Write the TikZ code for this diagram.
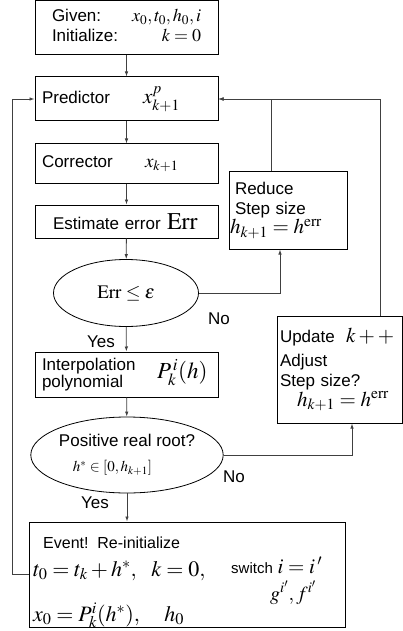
\documentclass[tikz,border=0pt]{standalone}
\usepackage{mathptmx}
\usepackage[no-math]{fontspec}
\setmainfont{Liberation Sans}
\usepackage{tikz}
\usetikzlibrary{arrows.meta}
\usetikzlibrary{shapes.geometric}
\newcommand{\mth}[2][19]{{\fontsize{#1}{#1}\selectfont$#2$}}

\begin{document}
\begin{tikzpicture}[x=1pt,y=-1pt,font=\fontsize{17}{20}\selectfont]
  \tikzset{box/.style={draw=black,line width=1pt,minimum width=183pt,inner xsep=7pt,text width=169pt,align=left}}
  \tikzset{sidebox/.style={draw=black,line width=1pt,align=left,inner xsep=6pt}}
  \tikzset{test/.style={draw=black,line width=0.8pt,ellipse,inner sep=0pt,align=center}}
  \tikzset{flow/.style={-{Latex[length=5pt,width=3.5pt]},draw=black!75,line width=0.8pt}}
  \tikzset{answer/.style={font=\fontsize{17}{20}\selectfont}}
  \tikzset{inline/.style={anchor=base west,inner sep=0pt}}

  \useasboundingbox (0,0) rectangle (403,631);

  \node[box,minimum height=54pt] (given) at (126.5,28)
    {\hspace*{10pt}\begin{tabular}{@{}l@{\hspace{14pt}}r@{}}Given: & \mth[18]{x_0,t_0,h_0,i}\\ Initialize: & \mth[18]{k=0}\end{tabular}};
  \node[box,minimum height=44pt] (pred) at (126.5,99)
    {\makebox[101pt][l]{Predictor}\mth[21]{x^{p}_{k+1}}};
  \node[box,minimum height=39pt] (corr) at (126.5,163.5)
    {\makebox[103pt][l]{Corrector}\mth{x_{k+1}}};
  \node[box,minimum height=33pt] (est) at (126.5,221.5)
    {\hspace*{11pt}\makebox[114pt][l]{Estimate error}\mth[24]{\mathrm{Err}}};
  \node[test,minimum width=145pt,minimum height=67pt] (errtest) at (126,293)
    {\mth{\mathrm{Err}\le\varepsilon}};
  \node[box,minimum height=45pt] (interp) at (126.5,374.5)
    {\makebox[115pt][l]{\begin{tabular}{@{}l@{}}Interpolation\\[-3pt]polynomial\end{tabular}}\mth[23]{P_k^{\,i}(h)}};
  \node[test,minimum width=167pt,minimum height=76pt] (roottest) at (127,455)
    {Positive real root?\\[5pt]\mth[15]{h^{*}\in[0,h_{k+1}]}\hspace*{29pt}};
  \node[sidebox,text width=106pt,minimum height=77pt] (reduce) at (288,210.5)
    {Reduce\\Step size\\[-1pt]\hspace*{-5pt}\mth[21]{h_{k+1}=h^{\mathrm{err}}}};
  \node[sidebox,inner xsep=3pt,text width=119pt,minimum height=107pt] (update) at (339.5,369.5)
    {\makebox[66pt][l]{Update}\mth[21]{k++}\\[4pt]Adjust\\Step size?\\[0pt]\hspace*{17pt}\mth[21]{h_{k+1}=h^{\mathrm{err}}}};

  \node[draw=black,line width=1pt,minimum width=316pt,minimum height=105pt] (event) at (187,574.5) {};
  \node[inline,font=\fontsize{16}{19}\selectfont] (evhead) at (43,548) {Event!\ \ Re-initialize};
  \node[inline] (evtime) at (33,576) {\mth[22]{t_0=t_k+h^{*},\ \ k=0,}};
  \node[inline] (evswitch) at (231,573) {{\fontsize{15}{18}\selectfont switch}\ \mth[21]{i=i\,'}};
  \node[inline] (evfun) at (270,600) {\mth[20]{g^{i'},f^{i'}}};
  \node[inline] (evstate) at (33,621) {\mth[22]{x_0=P_k^{i}(h^{*}),\quad h_0}};

  \node[answer] (yes1) at (101,342) {Yes};
  \node[answer] (no1) at (219,319) {No};
  \node[answer] (yes2) at (95,503) {Yes};
  \node[answer] (no2) at (234,477) {No};

  \draw[flow] (given) -- (pred);
  \draw[flow] (pred) -- (corr);
  \draw[flow] (corr) -- (est);
  \draw[flow] (est) -- (errtest);
  \draw[flow] (errtest) -- (interp);
  \draw[flow] (interp) -- (roottest);
  \draw[flow] (roottest) -- (roottest |- event.north);
  \draw[flow] (errtest.east) -| ([xshift=-8pt]reduce.south);
  \draw[flow] ([xshift=-17pt]reduce.north) |- (pred.east);
  \draw[flow] ([xshift=40.5pt]update.north) |- (pred.east);
  \draw[flow] (roottest.east) -| ([xshift=12.5pt]update.south);
  \draw[flow] (event.west) -- ++(-16,0) |- (pred.west);
\end{tikzpicture}
\end{document}
